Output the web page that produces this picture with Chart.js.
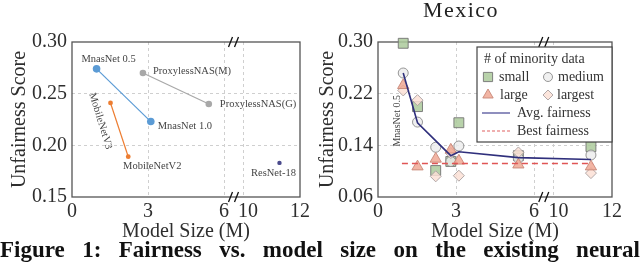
<!DOCTYPE html>
<html>
<head>
<meta charset="utf-8">
<script src="https://cdn.jsdelivr.net/npm/chart.js@4.4.1/dist/chart.umd.min.js"></script>
<style>
	html, body { margin: 0; padding: 0; background: #fff; }
	body { width: 640px; height: 265px; position: relative; overflow: hidden; }
	#sizeChart { position: absolute; left: 0; top: 0; }
	#mexicoChart { position: absolute; left: 308px; top: 0; }
	#caption {
		position: absolute; left: 0; top: 237px; width: 640px;
		font: bold 23px "Liberation Serif", serif; line-height: 26px; color: #111;
		text-align: justify; text-align-last: justify; white-space: normal;
	}
</style>
</head>
<body>
<canvas id="sizeChart" width="320" height="248"></canvas>
<canvas id="mexicoChart" width="332" height="248"></canvas>
<div id="caption">Figure 1: Fairness vs. model size on the existing neural</div>
<script>
// models (same order in both panels)
const modelNames = ['MnasNet 0.5', 'MobileNetV3', 'MobileNetV2', 'ProxylessNAS(M)', 'MnasNet 1.0', 'ProxylessNAS(G)', 'ResNet-18'];
const modelSizes = [0.97, 1.52, 2.22, 2.80, 3.11, 5.40, 11.28];
const overallUnfairness = [0.274, 0.241, 0.189, 0.270, 0.223, 0.240, 0.183];
const mnasIdx = [0, 4];
const mobileIdx = [1, 2];
const proxylessIdx = [3, 5];
const resnetIdx = [6];

// Mexico panel
const minorityGroups = ['small', 'medium', 'large', 'largest'];
const mexicoSmall   = [0.298, 0.200, 0.101, 0.115, 0.175, 0.124, 0.138];
const mexicoMedium  = [0.252, 0.176, 0.137, 0.115, 0.139, 0.120, 0.125];
const mexicoLarge   = [0.233, 0.107, 0.119, 0.133, 0.116, 0.110, 0.107];
const mexicoLargest = [0.225, 0.210, 0.092, 0.128, 0.093, 0.129, 0.097];
const mexicoAvg     = [0.252, 0.175, null, 0.124, 0.130, 0.121, 0.118];
const mexicoBest    = 0.112;

const xTickValues = [0, 3, 6, 10, 12];
const xTickLabels = ['0', '3', '6', '\u200210', '12'];
const leftYTicks = [0.15, 0.20, 0.25, 0.30];
const rightYTicks = [0.06, 0.14, 0.22, 0.30];

// broken x axis: 0-6 then 10-12
const BREAK_LO = 6, BREAK_HI = 10, GAP = 0.75, HI_SCALE = 1.125;
function bx(x) {
	return x <= BREAK_LO ? x : BREAK_LO + GAP + (x - BREAK_HI) * HI_SCALE;
}

const FONT = '"Liberation Serif", "Times New Roman", serif';
const TEXT = '#2e2e2e';
const GRID = '#cfcfcf';

function innerGrid(c) {
	return (c.index > 0 && c.index < c.scale.ticks.length - 1) ? GRID : 'rgba(0,0,0,0)';
}

function makeScales(yTicks, yWidth) {
	return {
		x: {
			type: 'linear',
			min: 0,
			max: bx(12),
			afterBuildTicks: s => { s.ticks = xTickValues.map(v => ({ value: bx(v) })); },
			afterFit: s => { s.height = 51; },
			ticks: {
				callback: (v, i) => xTickLabels[i],
				font: { family: FONT, size: 20 }, color: TEXT, padding: 3,
				maxRotation: 0, autoSkip: false
			},
			grid: { color: innerGrid, drawTicks: false, lineWidth: 1 },
			border: { display: false, dash: [3, 3] },
			title: { display: true, text: 'Model Size (M)', font: { family: FONT, size: 20 }, color: TEXT, padding: { top: 0, bottom: 4 } }
		},
		y: {
			type: 'linear',
			min: yTicks[0],
			max: yTicks[yTicks.length - 1],
			afterBuildTicks: s => { s.ticks = yTicks.map(v => ({ value: v })); },
			afterFit: s => { s.width = yWidth; },
			ticks: {
				callback: v => v.toFixed(2),
				font: { family: FONT, size: 20 }, color: TEXT, padding: 5
			},
			grid: { color: innerGrid, drawTicks: false, lineWidth: 1 },
			border: { display: false, dash: [3, 3] },
			title: { display: true, text: 'Unfairness Score', font: { family: FONT, size: 20 }, color: TEXT, padding: { top: 8, bottom: 4 } }
		}
	};
}

// box round the plot area + axis break marks
const framePlugin = {
	id: 'framePlugin',
	beforeDatasetsDraw(chart) {
		const { ctx, chartArea: a, scales: { x } } = chart;
		ctx.save();
		ctx.strokeStyle = '#555';
		ctx.lineWidth = 1.3;
		ctx.strokeRect(a.left, a.top, a.right - a.left, a.bottom - a.top);
		const px = x.getPixelForValue(BREAK_LO + GAP / 2);
		ctx.strokeStyle = '#111';
		ctx.lineWidth = 1.3;
		[a.top, a.bottom].forEach(yy => {
			ctx.beginPath();
			ctx.moveTo(px - 5, yy + 5); ctx.lineTo(px - 1, yy - 5);
			ctx.moveTo(px + 1, yy + 5); ctx.lineTo(px + 5, yy - 5);
			ctx.stroke();
		});
		ctx.restore();
	}
};

function pts(idx, values) {
	return idx.map(i => ({ x: bx(modelSizes[i]), y: values[i] }));
}

// ---------- left panel ----------
const leftLabelPlacement = [
	{ dx: 12, dy: -10, align: 'center', rot: 0 },
	{ dx: -10, dy: 18, align: 'center', rot: 73 },
	{ dx: 24, dy: 10, align: 'center', rot: 0 },
	{ dx: 10, dy: -2, align: 'left', rot: 0 },
	{ dx: 7, dy: 5, align: 'left', rot: 0 },
	{ dx: 11, dy: 0, align: 'left', rot: 0 },
	{ dx: -6, dy: 10, align: 'center', rot: 0 }
];

const modelLabels = {
	id: 'modelLabels',
	afterDatasetsDraw(chart) {
		const { ctx, scales: { x, y } } = chart;
		ctx.save();
		ctx.font = '10.5px ' + FONT;
		ctx.fillStyle = '#444';
		ctx.textBaseline = 'middle';
		leftLabelPlacement.forEach((p, i) => {
			const px = x.getPixelForValue(bx(modelSizes[i])) + p.dx;
			const py = y.getPixelForValue(overallUnfairness[i]) + p.dy;
			ctx.save();
			ctx.translate(px, py);
			ctx.rotate(p.rot * Math.PI / 180);
			ctx.textAlign = p.align;
			ctx.fillText(modelNames[i], 0, 0);
			ctx.restore();
		});
		ctx.restore();
	}
};

function familySet(idx, color, r) {
	return {
		data: pts(idx, overallUnfairness),
		showLine: true,
		borderColor: color,
		borderWidth: 1.2,
		pointBackgroundColor: color,
		pointBorderWidth: 0,
		pointRadius: r,
		clip: false
	};
}

new Chart(document.getElementById('sizeChart'), {
	type: 'scatter',
	data: {
		datasets: [
			familySet(mnasIdx, '#5b9bd5', 3.8),
			familySet(proxylessIdx, '#a8a8a8', 3.3),
			familySet(mobileIdx, '#ed7d31', 2.4),
			familySet(resnetIdx, '#4a4a8c', 2.2)
		]
	},
	options: {
		responsive: false,
		animation: false,
		layout: { padding: { top: 42, right: 20, left: 0, bottom: 0 } },
		scales: makeScales(leftYTicks, 72),
		plugins: { legend: { display: false }, tooltip: { enabled: false } }
	},
	plugins: [framePlugin, modelLabels]
});

// ---------- right panel (Mexico) ----------
const groupStyles = [
	{ pointStyle: 'rect', radius: 7, bg: 'rgba(172,202,155,0.85)', border: 'rgba(115,115,115,0.9)' },
	{ pointStyle: 'circle', radius: 5, bg: 'rgba(236,236,236,0.8)', border: 'rgba(140,140,140,0.9)' },
	{ pointStyle: 'triangle', radius: 6.5, bg: 'rgba(240,168,148,0.85)', border: 'rgba(200,135,120,0.9)' },
	{ pointStyle: 'rectRot', radius: 5.5, bg: 'rgba(252,224,214,0.85)', border: 'rgba(170,160,160,0.9)' }
];
const groupValues = [mexicoSmall, mexicoMedium, mexicoLarge, mexicoLargest];
const groupOrder = [6, 5, 3, 4];
const allIdx = modelSizes.map((_, i) => i);

const groupSets = minorityGroups.map((g, k) => ({
	label: g,
	data: pts(allIdx, groupValues[k]),
	pointStyle: groupStyles[k].pointStyle,
	pointRadius: groupStyles[k].radius,
	pointBackgroundColor: groupStyles[k].bg,
	pointBorderColor: groupStyles[k].border,
	pointBorderWidth: 1,
	order: groupOrder[k],
	clip: false
}));

const avgIdx = allIdx.filter(i => mexicoAvg[i] != null);

const mexicoLegend = {
	id: 'mexicoLegend',
	afterDraw(chart) {
		const { ctx, chartArea: a } = chart;
		const w = 135, h = 95;
		const x0 = a.right - w, y0 = a.top + 5;
		ctx.save();
		ctx.fillStyle = '#fff';
		ctx.fillRect(x0, y0, w, h);
		ctx.strokeStyle = '#444';
		ctx.lineWidth = 1.2;
		ctx.strokeRect(x0, y0, w, h);
		ctx.font = '14px ' + FONT;
		ctx.fillStyle = '#333';
		ctx.textBaseline = 'middle';
		ctx.textAlign = 'left';
		ctx.fillText('# of minority data', x0 + 7, y0 + 12);
		const cells = [
			{ mx: 11, my: 30, tx: 22 },
			{ mx: 71, my: 30, tx: 81 },
			{ mx: 11, my: 48, tx: 23 },
			{ mx: 71, my: 48, tx: 80 }
		];
		cells.forEach((c, k) => {
			const st = groupStyles[k];
			ctx.fillStyle = st.bg;
			ctx.strokeStyle = st.border;
			ctx.lineWidth = 1;
			Chart.helpers.drawPoint(ctx, { pointStyle: st.pointStyle, radius: st.radius - 0.5, borderWidth: 1, rotation: 0 }, x0 + c.mx, y0 + c.my);
			ctx.fillStyle = '#333';
			ctx.fillText(minorityGroups[k], x0 + c.tx, y0 + c.my);
		});
		ctx.lineWidth = 1.5;
		ctx.strokeStyle = '#6a6aa8';
		ctx.beginPath(); ctx.moveTo(x0 + 5, y0 + 66); ctx.lineTo(x0 + 33, y0 + 66); ctx.stroke();
		ctx.fillText('Avg. fairness', x0 + 40, y0 + 66);
		ctx.strokeStyle = '#e06060';
		ctx.lineWidth = 1.2;
		ctx.setLineDash([3, 2]);
		ctx.beginPath(); ctx.moveTo(x0 + 5, y0 + 84); ctx.lineTo(x0 + 33, y0 + 84); ctx.stroke();
		ctx.setLineDash([]);
		ctx.fillText('Best fairness', x0 + 40, y0 + 84);

		// panel title
		ctx.font = '22px ' + FONT;
		ctx.fillStyle = '#222';
		ctx.textAlign = 'center';
		ctx.textBaseline = 'alphabetic';
		if ('letterSpacing' in ctx) ctx.letterSpacing = '1.5px';
		ctx.fillText('Mexico', 153, 17);
		ctx.restore();
	}
};

const mnasTag = {
	id: 'mnasTag',
	afterDatasetsDraw(chart) {
		const { ctx, scales: { x, y } } = chart;
		ctx.save();
		ctx.font = '10px ' + FONT;
		ctx.fillStyle = '#444';
		ctx.textAlign = 'center';
		ctx.textBaseline = 'middle';
		ctx.translate(x.getPixelForValue(bx(modelSizes[0])) - 6, y.getPixelForValue(0.178));
		ctx.rotate(-Math.PI / 2);
		ctx.fillText(modelNames[0], 0, 0);
		ctx.restore();
	}
};

new Chart(document.getElementById('mexicoChart'), {
	type: 'scatter',
	data: {
		datasets: groupSets.concat([
			{
				label: 'Best fairness',
				data: [{ x: bx(modelSizes[0]) - 0.05, y: mexicoBest }, { x: bx(modelSizes[6]) + 0.05, y: mexicoBest }],
				showLine: true,
				borderColor: '#e05555',
				borderWidth: 1.5,
				borderDash: [6, 4],
				pointRadius: 0,
				order: 2,
				clip: false
			},
			{
				label: 'Avg. fairness',
				data: pts(avgIdx, mexicoAvg),
				showLine: true,
				borderColor: '#2f2f7c',
				borderWidth: 1.6,
				pointRadius: 0,
				order: 1,
				clip: false
			}
		])
	},
	options: {
		responsive: false,
		animation: false,
		layout: { padding: { top: 42, right: 28, left: 0, bottom: 0 } },
		scales: makeScales(rightYTicks, 70),
		plugins: { legend: { display: false }, tooltip: { enabled: false } }
	},
	plugins: [framePlugin, mnasTag, mexicoLegend]
});
</script>
</body>
</html>
